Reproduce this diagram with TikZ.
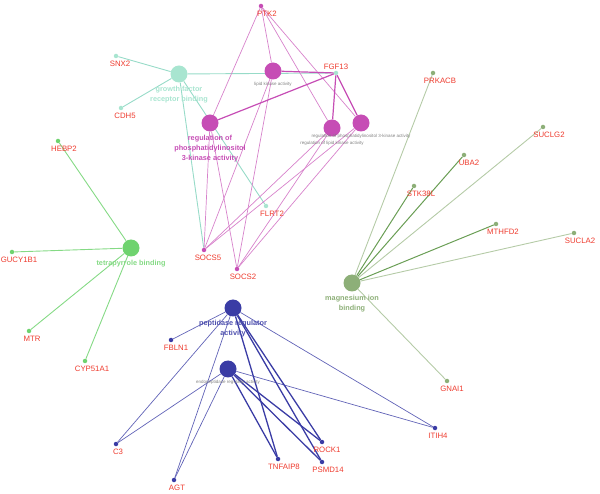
\documentclass[tikz,border=0pt]{standalone}
\usepackage{fontspec}
\setmainfont{Liberation Sans}
\usepackage{xcolor}
\usetikzlibrary{backgrounds}
\definecolor{gfcol}{HTML}{A8E5D0}
\definecolor{pkcol}{HTML}{C64DB5}
\definecolor{tpcol}{HTML}{6FD36F}
\definecolor{mgcol}{HTML}{8DAF78}
\definecolor{mgdark}{HTML}{6A9E55}
\definecolor{pepcol}{HTML}{3A3CA5}
\definecolor{genered}{HTML}{EE3B2E}

\begin{document}
\begin{tikzpicture}[x=1pt, y=-1pt,
    term/.style={circle, inner sep=0pt, minimum size=17pt},
    gene/.style={circle, inner sep=0pt, minimum size=4.5pt},
    gl/.style={text=genered, font=\fontsize{7.8}{8}\selectfont, inner sep=0pt, yshift=-2pt},
    tl/.style={font=\bfseries\fontsize{7.3}{10}\selectfont, align=center, inner sep=0pt, yshift=-3pt},
    tinyl/.style={text=gray, font=\fontsize{4.5}{5}\selectfont, inner sep=0pt, yshift=-2.5pt}]
	\useasboundingbox (0,0) rectangle (600,494);

	% growth factor receptor binding
	\node[term, fill=gfcol, label={[tl, text=gfcol]below:{growth factor\\receptor binding}}] (gfrb) at (179,74) {};
	\node[gene, fill=gfcol, label={[gl, xshift=4pt]below:SNX2}] (snx2) at (116,56) {};
	\node[gene, fill=gfcol, label={[gl, xshift=4pt]below:CDH5}] (cdh5) at (121,108) {};
	\node[gene, fill=gfcol, label={[text=genered, font=\fontsize{7.8}{8}\selectfont, inner sep=0pt, yshift=0.5pt]above:FGF13}] (fgf13) at (336,73) {};
	\node[gene, fill=gfcol, label={[gl, xshift=6pt]below:FLRT2}] (flrt2) at (266,206) {};

	% kinase terms
	\node[term, fill=pkcol, label={[tl, text=pkcol]below:{regulation of\\phosphatidylinositol\\3-kinase activity}}] (rpi3k) at (210,123) {};
	\node[term, fill=pkcol, label={[tinyl]below:lipid kinase activity}] (lka) at (273,71) {};
	\node[term, fill=pkcol, label={[tinyl, yshift=-2pt]below:regulation of lipid kinase activity}] (rlka) at (332,128) {};
	\node[term, fill=pkcol, label={[tinyl]below:regulation of phosphatidylinositol 3-kinase activity}] (rpi3ks) at (361,123) {};
	\node[gene, fill=pkcol, label={[gl, xshift=6pt]below:PTK2}] (ptk2) at (261,6) {};
	\node[gene, fill=pkcol, label={[gl, xshift=4pt]below:SOCS5}] (socs5) at (204,250) {};
	\node[gene, fill=pkcol, label={[gl, xshift=6pt]below:SOCS2}] (socs2) at (237,269) {};

	% tetrapyrrole binding
	\node[term, fill=tpcol, label={[tl, text=tpcol!85!white]below:tetrapyrrole binding}] (tetra) at (131,248) {};
	\node[gene, fill=tpcol, label={[gl, xshift=6pt]below:HEBP2}] (hebp2) at (58,141) {};
	\node[gene, fill=tpcol, label={[gl, xshift=7pt]below:GUCY1B1}] (gucy1b1) at (12,252) {};
	\node[gene, fill=tpcol, label={[gl, xshift=3pt]below:MTR}] (mtr) at (29,331) {};
	\node[gene, fill=tpcol, label={[gl, xshift=7pt]below:CYP51A1}] (cyp51a1) at (85,361) {};

	% magnesium ion binding
	\node[term, fill=mgcol, label={[tl, text=mgcol]below:{magnesium ion\\binding}}] (mgib) at (352,283) {};
	\node[gene, fill=mgcol, label={[gl, xshift=7pt]below:PRKACB}] (prkacb) at (433,73) {};
	\node[gene, fill=mgcol, label={[gl, xshift=6pt]below:SUCLG2}] (suclg2) at (543,127) {};
	\node[gene, fill=mgcol, label={[gl, xshift=5pt]below:UBA2}] (uba2) at (464,155) {};
	\node[gene, fill=mgcol, label={[gl, xshift=7pt]below:STK38L}] (stk38l) at (414,186) {};
	\node[gene, fill=mgcol, label={[gl, xshift=7pt]below:MTHFD2}] (mthfd2) at (496,224) {};
	\node[gene, fill=mgcol, label={[gl, xshift=6pt]below:SUCLA2}] (sucla2) at (574,233) {};
	\node[gene, fill=mgcol, label={[gl, xshift=5pt]below:GNAI1}] (gnai1) at (447,381) {};

	% peptidase terms
	\node[term, fill=pepcol, label={[tl, text=pepcol!90!white]below:{peptidase regulator\\activity}}] (pep) at (233,308) {};
	\node[term, fill=pepcol, label={[tinyl]below:endopeptidase regulator activity}] (endo) at (228,369) {};
	\node[gene, fill=pepcol, label={[gl, xshift=5pt]below:FBLN1}] (fbln1) at (171,340) {};
	\node[gene, fill=pepcol, label={[gl, xshift=2pt]below:C3}] (c3) at (116,444) {};
	\node[gene, fill=pepcol, label={[gl, xshift=3pt]below:AGT}] (agt) at (174,480) {};
	\node[gene, fill=pepcol, label={[gl, xshift=6pt]below:TNFAIP8}] (tnfaip8) at (278,459) {};
	\node[gene, fill=pepcol, label={[gl, xshift=5pt]below:ROCK1}] (rock1) at (322,442) {};
	\node[gene, fill=pepcol, label={[gl, xshift=6pt]below:PSMD14}] (psmd14) at (322,462) {};
	\node[gene, fill=pepcol, label={[gl, xshift=3pt]below:ITIH4}] (itih4) at (435,428) {};

	\begin{scope}[on background layer]
		\begin{scope}[every edge/.style={draw=gfcol!90!teal, line width=0.9pt}]
			\path
			(gfrb) edge (snx2)
			(gfrb) edge (cdh5)
			(gfrb) edge (fgf13)
			(gfrb) edge (flrt2)
			(gfrb) edge (socs5);
		\end{scope}
		\begin{scope}[every edge/.style={draw=pkcol!70!white, line width=0.7pt}]
			\path
			(rpi3k) edge (ptk2)
			(rpi3k) edge (socs5)
			(rpi3k) edge (socs2)
			(lka) edge (ptk2)
			(lka) edge (socs5)
			(lka) edge (socs2)
			(rlka) edge (ptk2)
			(rlka) edge (socs5)
			(rlka) edge (socs2)
			(rpi3ks) edge (ptk2)
			(rpi3ks) edge (socs5)
			(rpi3ks) edge (socs2);
		\end{scope}
		\begin{scope}[every edge/.style={draw=pkcol, line width=1.2pt}]
			\path
			(fgf13) edge (rpi3k)
			(fgf13) edge (lka)
			(fgf13) edge (rlka)
			(fgf13) edge (rpi3ks);
		\end{scope}
		\begin{scope}[every edge/.style={draw=tpcol!85!white, line width=0.9pt}]
			\path
			(tetra) edge (hebp2)
			(tetra) edge (gucy1b1)
			(tetra) edge (mtr)
			(tetra) edge (cyp51a1);
		\end{scope}
		\begin{scope}[every edge/.style={draw=mgcol!65!white, line width=0.9pt}]
			\path
			(mgib) edge (prkacb)
			(mgib) edge (suclg2)
			(mgib) edge (sucla2)
			(mgib) edge (gnai1);
		\end{scope}
		\begin{scope}[every edge/.style={draw=mgdark, line width=1pt}]
			\path
			(mgib) edge (uba2)
			(mgib) edge (stk38l)
			(mgib) edge (mthfd2);
		\end{scope}
		\begin{scope}[every edge/.style={draw=pepcol!80!white, line width=0.7pt}]
			\path
			(pep) edge (fbln1)
			(pep) edge (c3)
			(pep) edge (agt)
			(pep) edge (itih4)
			(endo) edge (c3)
			(endo) edge (agt)
			(endo) edge (itih4);
		\end{scope}
		\begin{scope}[every edge/.style={draw=pepcol, line width=1.3pt}]
			\path
			(pep) edge (tnfaip8)
			(pep) edge (rock1)
			(pep) edge (psmd14)
			(endo) edge (tnfaip8)
			(endo) edge (rock1)
			(endo) edge (psmd14);
		\end{scope}
	\end{scope}
\end{tikzpicture}
\end{document}
